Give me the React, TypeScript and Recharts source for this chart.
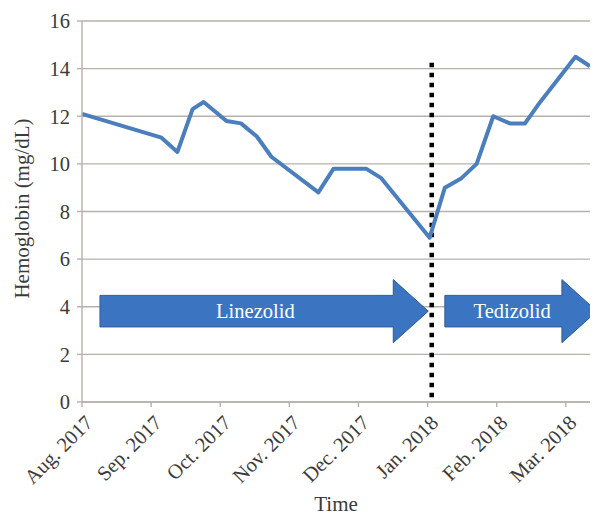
import { LineChart, Line, XAxis, YAxis, CartesianGrid, ReferenceLine, ReferenceArea, Label } from 'recharts'

// time axis is in months since Aug. 2017
const MONTH_LABELS = ['Aug. 2017', 'Sep. 2017', 'Oct. 2017', 'Nov. 2017', 'Dec. 2017', 'Jan. 2018', 'Feb. 2018', 'Mar. 2018']
const MONTH_TICKS = [0, 1, 2, 3, 4, 5, 6, 7]
const Y_TICKS = [0, 2, 4, 6, 8, 10, 12, 14, 16]

const SAMPLE_TIME = [0, 1.15, 1.38, 1.6, 1.76, 2.09, 2.3, 2.53, 2.74, 3.42, 3.64, 4.11, 4.33, 5.03, 5.25, 5.49, 5.71, 5.95, 6.19, 6.41, 6.63, 7.14, 7.35]
const HEMOGLOBIN = [12.1, 11.1, 10.5, 12.3, 12.6, 11.8, 11.7, 11.15, 10.3, 8.8, 9.8, 9.8, 9.4, 6.9, 9.0, 9.4, 10.0, 12.0, 11.7, 11.7, 12.6, 14.5, 14.1]

const SWITCH_TIME = 5.06
const SWITCH_TOP = 14.25

const TREATMENTS = [
  { name: 'Linezolid', start: 0.26, end: 5.01 },
  { name: 'Tedizolid', start: 5.25, end: 7.45 },
]
const ARROW_LOW = 2.49
const ARROW_HIGH = 5.14

const data = SAMPLE_TIME.map((t, i) => ({ t, hgb: HEMOGLOBIN[i] }))

const FONT = '"Liberation Serif", "DejaVu Serif", "Times New Roman", serif'
const TEXT = '#3b3b3b'
const GRID = '#b7b1ac'
const serif = (size: number, fill = TEXT) => ({ fontFamily: FONT, fontSize: size, fill })

function MonthTick({ x, y, payload }: any) {
  return (
    <g transform={`translate(${x + 12},${y + 17})`}>
      <text transform="rotate(-45)" textAnchor="end" style={serif(20.5)}>
        {MONTH_LABELS[payload.value]}
      </text>
    </g>
  )
}

function TreatmentArrow({ x, y, width, height, name }: any) {
  const head = 35
  const neck = x + width - head
  const top = y + height / 4
  const bottom = y + (height * 3) / 4
  const pts = [
    [x, top], [neck, top], [neck, y], [x + width, y + height / 2],
    [neck, y + height], [neck, bottom], [x, bottom],
  ].map((p) => p.join(',')).join(' ')
  const cx = x + (width - head / 2) / 2
  return (
    <g>
      <polygon points={pts} fill="#3b75c2" stroke="#2d5b98" strokeWidth={1} />
      <text x={cx} y={y + height / 2 + 7} textAnchor="middle" style={serif(20.5, '#ffffff')}>
        {name}
      </text>
    </g>
  )
}

export default function App() {
  return (
    <div style={{ width: 590, height: 509, fontFamily: FONT }}>
      <LineChart width={590} height={509} data={data} margin={{ top: 13, right: 8, bottom: 0, left: 0 }}>
        <CartesianGrid vertical={false} stroke={GRID} strokeWidth={1.4} />
        <XAxis
          dataKey="t"
          type="number"
          domain={[0, 7.35]}
          ticks={MONTH_TICKS}
          interval={0}
          height={115}
          tickSize={5}
          tickMargin={0}
          stroke={GRID}
          strokeWidth={1.4}
          tick={<MonthTick />}
        >
          <Label
            content={({ viewBox }: any) => (
              <text x={viewBox.x + viewBox.width / 2} y={viewBox.y + viewBox.height - 6} textAnchor="middle" style={serif(21)}>
                Time
              </text>
            )}
          />
        </XAxis>
        <YAxis
          domain={[0, 16]}
          ticks={Y_TICKS}
          width={74}
          tickSize={5}
          tickMargin={7}
          stroke={GRID}
          strokeWidth={1.4}
          tick={{ style: serif(20.5) } as any}
        >
          <Label
            content={({ viewBox }: any) => {
              const cy = viewBox.y + viewBox.height / 2 - 3
              return (
                <text x={21} y={cy} transform={`rotate(-90, 21, ${cy})`} textAnchor="middle" style={serif(21)}>
                  Hemoglobin (mg/dL)
                </text>
              )
            }}
          />
        </YAxis>
        {TREATMENTS.map((tr) => (
          <ReferenceArea
            key={tr.name}
            x1={tr.start}
            x2={tr.end}
            y1={ARROW_LOW}
            y2={ARROW_HIGH}
            ifOverflow="visible"
            shape={(p: any) => <TreatmentArrow {...p} name={tr.name} />}
          />
        ))}
        <ReferenceLine
          segment={[{ x: SWITCH_TIME, y: SWITCH_TOP }, { x: SWITCH_TIME, y: 0 }]}
          stroke="#000000"
          strokeWidth={4.5}
          strokeDasharray="4.5 5.5"
          ifOverflow="visible"
        />
        <Line
          type="linear"
          dataKey="hgb"
          stroke="#4a7ebd"
          strokeWidth={4}
          strokeLinejoin="round"
          dot={false}
          isAnimationActive={false}
        />
      </LineChart>
    </div>
  )
}
